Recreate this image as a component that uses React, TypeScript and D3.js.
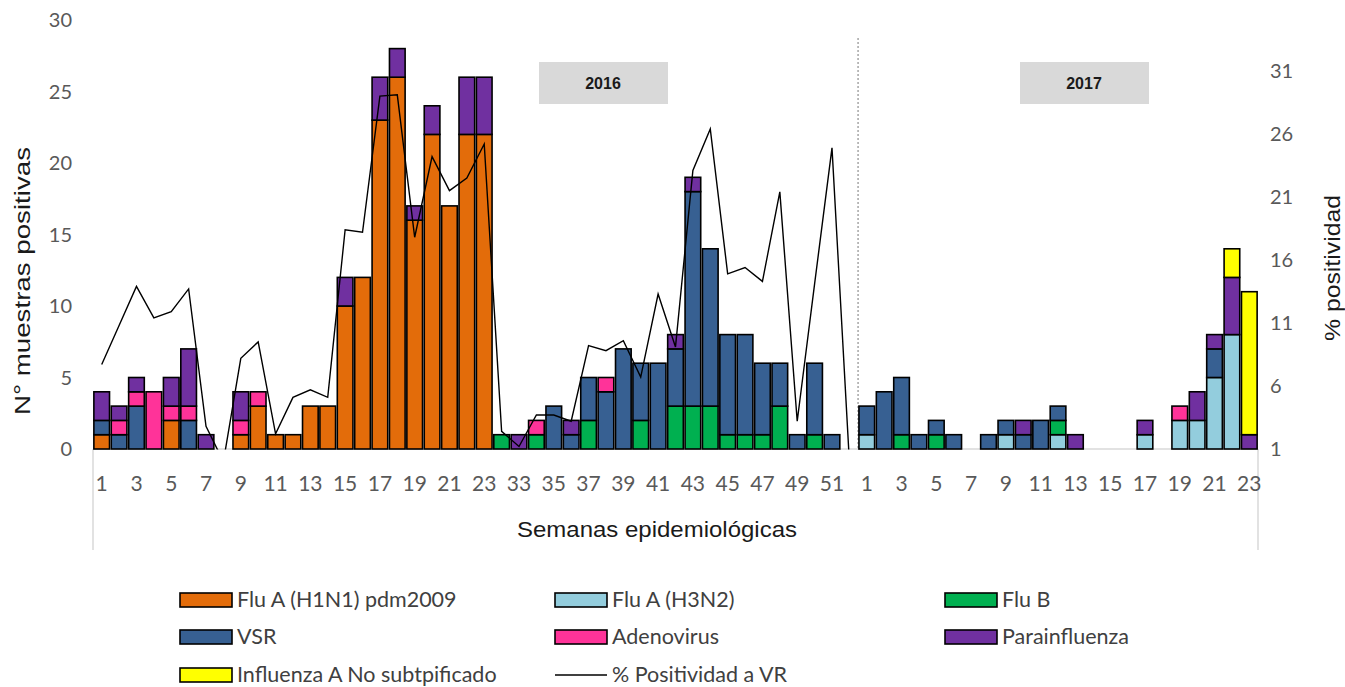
import React from "react";
import * as d3 from "d3";

const weeks2016a = d3.range(1, 24).map(String);
const weeks2016b = d3.range(32, 53).map(String);
const weeks2017 = d3.range(1, 24).map(String);
const categories = [...weeks2016a, ...weeks2016b, ...weeks2017];

// stacked series (bottom to top)
const fluAH1N1 = [
  1, 0, 0, 0, 2, 0, 0, 0, 1, 3, 1, 1, 3, 3, 10, 12, 23, 26, 16, 22, 17, 22, 22,
  0, 0, 0, 0, 0, 0, 0, 0, 0, 0, 0, 0, 0, 0, 0, 0, 0, 0, 0, 0, 0,
  0, 0, 0, 0, 0, 0, 0, 0, 0, 0, 0, 0, 0, 0, 0, 0, 0, 0, 0, 0, 0, 0, 0,
];
const fluAH3N2 = [
  0, 0, 0, 0, 0, 0, 0, 0, 0, 0, 0, 0, 0, 0, 0, 0, 0, 0, 0, 0, 0, 0, 0,
  0, 0, 0, 0, 0, 0, 0, 0, 0, 0, 0, 0, 0, 0, 0, 0, 0, 0, 0, 0, 0,
  1, 0, 0, 0, 0, 0, 0, 0, 1, 0, 0, 1, 0, 0, 0, 0, 1, 0, 2, 2, 5, 8, 0,
];
const fluB = [
  0, 0, 0, 0, 0, 0, 0, 0, 0, 0, 0, 0, 0, 0, 0, 0, 0, 0, 0, 0, 0, 0, 0,
  1, 0, 1, 0, 0, 2, 0, 0, 2, 0, 3, 3, 3, 1, 1, 1, 3, 0, 1, 0, 0,
  0, 0, 1, 0, 1, 0, 0, 0, 0, 0, 0, 1, 0, 0, 0, 0, 0, 0, 0, 0, 0, 0, 0,
];
const vsr = [
  1, 1, 3, 0, 0, 2, 0, 0, 0, 0, 0, 0, 0, 0, 0, 0, 0, 0, 0, 0, 0, 0, 0,
  0, 0, 0, 3, 1, 3, 4, 7, 4, 6, 4, 15, 11, 7, 7, 5, 3, 1, 5, 1, 0,
  2, 4, 4, 1, 1, 1, 0, 1, 1, 1, 2, 1, 0, 0, 0, 0, 0, 0, 0, 0, 2, 0, 0,
];
const adenovirus = [
  0, 1, 1, 4, 1, 1, 0, 0, 1, 1, 0, 0, 0, 0, 0, 0, 0, 0, 0, 0, 0, 0, 0,
  0, 0, 1, 0, 0, 0, 1, 0, 0, 0, 0, 0, 0, 0, 0, 0, 0, 0, 0, 0, 0,
  0, 0, 0, 0, 0, 0, 0, 0, 0, 0, 0, 0, 0, 0, 0, 0, 0, 0, 1, 0, 0, 0, 0,
];
const parainfluenza = [
  2, 1, 1, 0, 2, 4, 1, 0, 2, 0, 0, 0, 0, 0, 2, 0, 3, 2, 1, 2, 0, 4, 4,
  0, 1, 0, 0, 1, 0, 0, 0, 0, 0, 1, 1, 0, 0, 0, 0, 0, 0, 0, 0, 0,
  0, 0, 0, 0, 0, 0, 0, 0, 0, 1, 0, 0, 1, 0, 0, 0, 1, 0, 0, 2, 1, 4, 1,
];
const infANoSubtip = [
  0, 0, 0, 0, 0, 0, 0, 0, 0, 0, 0, 0, 0, 0, 0, 0, 0, 0, 0, 0, 0, 0, 0,
  0, 0, 0, 0, 0, 0, 0, 0, 0, 0, 0, 0, 0, 0, 0, 0, 0, 0, 0, 0, 0,
  0, 0, 0, 0, 0, 0, 0, 0, 0, 0, 0, 0, 0, 0, 0, 0, 0, 0, 0, 0, 0, 2, 10,
];
const positividad: (number | null)[] = [
  7.7, 10.8, 13.9, 11.4, 11.9, 13.7, 2.8, 0, 8.2, 9.5, 2.2, 5.1, 5.7, 5.1, 18.4, 18.2, 29.0, 29.1, 17.8, 24.2, 21.5, 22.5, 25.2,
  2.4, 1.2, 3.7, 3.7, 3.2, 9.2, 8.8, 9.6, 6.7, 13.3, 9.1, 23.1, 26.4, 14.9, 15.4, 14.3, 21.4, 3.2, 14.1, 24.9, 0,
  null, null, null, null, null, null, null, null, null, null, null, null, null, null, null, null, null, null, null, null, null, null, null,
];

const seriesNames = [
  "Flu A (H1N1) pdm2009",
  "Flu A (H3N2)",
  "Flu B",
  "VSR",
  "Adenovirus",
  "Parainfluenza",
  "Influenza A No subtpificado",
];
const seriesValues = [fluAH1N1, fluAH3N2, fluB, vsr, adenovirus, parainfluenza, infANoSubtip];
const seriesColors = ["#E36C0A", "#93CDDD", "#00B050", "#376092", "#FF3399", "#7030A0", "#FFFF00"];
const leftTicks = [0, 5, 10, 15, 20, 25, 30];
const rightTicks = [1, 6, 11, 16, 21, 26, 31];
const yearLabels = ["2016", "2017"];

const X0 = 93, X1 = 1258, YTOP = 20, YBOT = 449;

export default function App() {
  const x = d3.scaleBand<number>().domain(d3.range(categories.length)).range([X0, X1]).paddingInner(0.1).paddingOuter(0.05);
  const y = d3.scaleLinear().domain([0, 30]).range([YBOT, YTOP]);
  const y2 = d3.scaleLinear().domain([1, 35]).range([YBOT, 20.5]);

  const rows = categories.map((_, i) => {
    const o: any = { i };
    seriesNames.forEach((n, k) => (o[n] = seriesValues[k][i]));
    return o;
  });
  const stacked = d3.stack<any>().keys(seriesNames)(rows);

  const line = d3
    .line<number | null>()
    .defined((d) => d !== null)
    .x((_, i) => (x(i) as number) + x.bandwidth() / 2)
    .y((d) => y2(d as number));

  const sepX = x(44) as number - (x.step() * x.paddingInner()) / 2;
  const center2016 = 603;
  const center2017 = 1084;

  const tickFont = "Lato, 'Open Sans', sans-serif";
  const titleFont = "'Liberation Sans', Arial, sans-serif";

  const legendCols = [180, 555, 945];
  const legendRows = [600, 637, 675];

  return (
    <svg width={1345} height={687} style={{ position: "absolute", left: 0, top: 0, background: "#fff" }}>
      <defs>
        <clipPath id="plotclip">
          <rect x={X0} y={0} width={X1 - X0} height={YBOT + 0.5} />
        </clipPath>
      </defs>
      {/* year boxes */}
      {yearLabels.map((t, k) => {
        const cx = k === 0 ? center2016 : center2017;
        return (
          <g key={t}>
            <rect x={cx - 64} y={62} width={129} height={42} fill="#D9D9D9" />
            <text x={cx} y={89} textAnchor="middle" fontFamily={titleFont} fontWeight="bold" fontSize={16} fill="#1a1a1a">
              {t}
            </text>
          </g>
        );
      })}
      {/* separator */}
      <line x1={sepX} x2={sepX} y1={38} y2={YBOT} stroke="#A6A6A6" strokeWidth={1.5} strokeDasharray="2,2" />
      {/* axis lines */}
      <line x1={X0} x2={X1} y1={YBOT} y2={YBOT} stroke="#D9D9D9" strokeWidth={1.5} />
      <line x1={X0} x2={X0} y1={YBOT} y2={550} stroke="#D9D9D9" strokeWidth={1.5} />
      <line x1={X1} x2={X1} y1={YBOT} y2={550} stroke="#D9D9D9" strokeWidth={1.5} />
      {/* bars */}
      {stacked.map((s, k) => (
        <g key={s.key} fill={seriesColors[k]}>
          {s.map((d, i) =>
            d[1] - d[0] > 0 ? (
              <rect
                key={i}
                x={x(i)}
                width={x.bandwidth()}
                y={y(d[1])}
                height={y(d[0]) - y(d[1])}
                stroke="#000"
                strokeWidth={1.6}
              />
            ) : null
          )}
        </g>
      ))}
      {/* line */}
      <path d={line(positividad) || ""} fill="none" stroke="#000" strokeWidth={1.4} clipPath="url(#plotclip)" />
      {/* left ticks */}
      {leftTicks.map((t) => (
        <text key={t} x={72} y={y(t) + 7} textAnchor="end" fontFamily={tickFont} fontSize={20} fill="#595959">
          {t}
        </text>
      ))}
      {/* right ticks */}
      {rightTicks.map((t) => (
        <text key={t} x={1270} y={y2(t) + 7} textAnchor="start" fontFamily={tickFont} fontSize={20} fill="#595959">
          {t}
        </text>
      ))}
      {/* x tick labels */}
      {categories.map((c, i) =>
        i % 2 === 0 ? (
          <text key={i} x={(x(i) as number) + x.bandwidth() / 2} y={491} textAnchor="middle" fontFamily={tickFont} fontSize={21} fill="#595959">
            {c}
          </text>
        ) : null
      )}
      {/* titles */}
      <text x={657} y={537} textAnchor="middle" fontFamily={titleFont} fontSize={22} textLength={280} lengthAdjust="spacingAndGlyphs" fill="#1a1a1a">
        Semanas epidemiológicas
      </text>
      <text transform="translate(30,281) rotate(-90)" textAnchor="middle" fontFamily={titleFont} fontSize={22} textLength={268} lengthAdjust="spacingAndGlyphs" fill="#1a1a1a">
        N° muestras positivas
      </text>
      <text transform="translate(1340,268) rotate(-90)" textAnchor="middle" fontFamily={titleFont} fontSize={22} textLength={146} lengthAdjust="spacingAndGlyphs" fill="#1a1a1a">
        % positividad
      </text>
      {/* legend */}
      {seriesNames.map((n, k) => {
        const lx = legendCols[k % 3];
        const ly = legendRows[Math.floor(k / 3)];
        return (
          <g key={n}>
            <rect x={lx} y={ly - 7} width={52} height={14} fill={seriesColors[k]} stroke="#000" strokeWidth={1.6} />
            <text x={lx + 57} y={ly + 7} fontFamily={tickFont} fontSize={21.5} fill="#404040">
              {n}
            </text>
          </g>
        );
      })}
      <g>
        <line x1={legendCols[1]} x2={legendCols[1] + 52} y1={legendRows[2]} y2={legendRows[2]} stroke="#000" strokeWidth={1.4} />
        <text x={legendCols[1] + 57} y={legendRows[2] + 7} fontFamily={tickFont} fontSize={21.5} fill="#404040">
          % Positividad a VR
        </text>
      </g>
    </svg>
  );
}
